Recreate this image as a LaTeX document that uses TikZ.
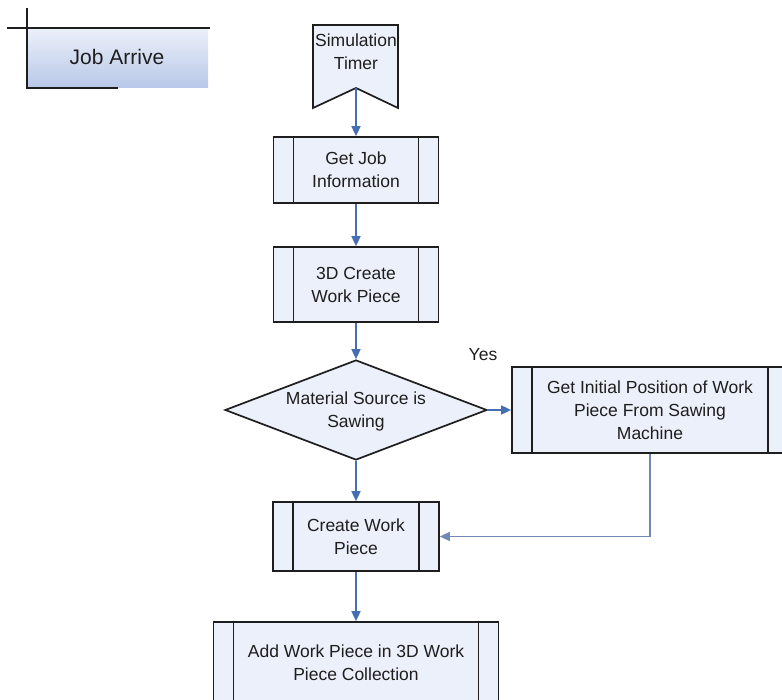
\documentclass[tikz,border=0pt]{standalone}
\usepackage{fontspec}
\setmainfont{Liberation Sans}
\usetikzlibrary{shapes.geometric,arrows.meta}

\definecolor{linec}{RGB}{30,30,30}
\definecolor{boxfill}{RGB}{236,240,250}
\definecolor{flowc}{RGB}{70,110,178}
\definecolor{backc}{RGB}{112,136,180}
\definecolor{arrtop}{RGB}{236,240,250}
\definecolor{arrbot}{RGB}{184,200,232}

\tikzset{
  subproc/.style={draw=linec, line width=1.7pt, fill=boxfill, align=center,
    inner sep=0pt, text=linec, font=\fontsize{17.5}{23}\selectfont,
    path picture={\draw[line width=1.7pt,draw=linec]
      ([xshift=20pt]path picture bounding box.north west) -- ([xshift=20pt]path picture bounding box.south west)
      ([xshift=-20pt]path picture bounding box.north east) -- ([xshift=-20pt]path picture bounding box.south east);}},
  txt/.style={align=center, text=linec, font=\fontsize{17.5}{23}\selectfont},
  flow/.style={draw=flowc, line width=1.6pt, -{Triangle[length=10pt,width=9pt]}}
}

\begin{document}
\begin{tikzpicture}[x=1pt,y=-1pt]
\useasboundingbox (0,0) rectangle (782,700);

% job arrive header
\shade[top color=arrtop, bottom color=arrbot] (27,28) rectangle (208,88);
\draw[line width=1.8pt,draw=linec] (7,28) -- (210,28);
\draw[line width=1.8pt,draw=linec] (27,8) -- (27,88) -- (118,88);
\node[txt, font=\fontsize{21}{25}\selectfont] (arrive) at (117,57) {Job Arrive};

% timer (off-page shape)
\draw[line width=1.7pt,draw=linec,fill=boxfill] (313,25) -- (398,25) -- (398,108) -- (356,88) -- (313,108) -- cycle;
\coordinate (tip) at (356,88);
\node[txt] (timer) at (356,52) {Simulation\\Timer};

\node[subproc, minimum width=165pt, minimum height=66pt] (info) at (356,170) {Get Job\\Information};
\node[subproc, minimum width=165pt, minimum height=75pt] (create3d) at (356,284.5) {3D Create\\Work Piece};

\node[diamond, draw=linec, line width=1.7pt, fill=boxfill, inner sep=0pt,
  minimum width=262pt, minimum height=100pt] (src) at (356,410) {};
\node[txt] (srctxt) at (356,411) {Material Source is\\Sawing};
\node[txt] (yes) at (483,355) {Yes};

\node[subproc, minimum width=276pt, minimum height=86pt] (getpos) at (650,410) {Get Initial Position of Work\\Piece From Sawing\\Machine};
\node[subproc, minimum width=166pt, minimum height=69pt] (create) at (356,536.5) {Create Work\\Piece};
\node[subproc, minimum width=285pt, minimum height=82pt] (add) at (356,663) {Add Work Piece in 3D Work\\Piece Collection};

\draw[flow] (tip) -- (info);
\draw[flow] (info) -- (create3d);
\draw[flow] (create3d) -- (src);
\draw[flow] (src) -- (getpos);
\draw[flow] (src) -- (create);
\draw[flow] (create) -- (add);
\draw[flow, draw=backc] (getpos.south) |- (create.east);
\end{tikzpicture}
\end{document}
